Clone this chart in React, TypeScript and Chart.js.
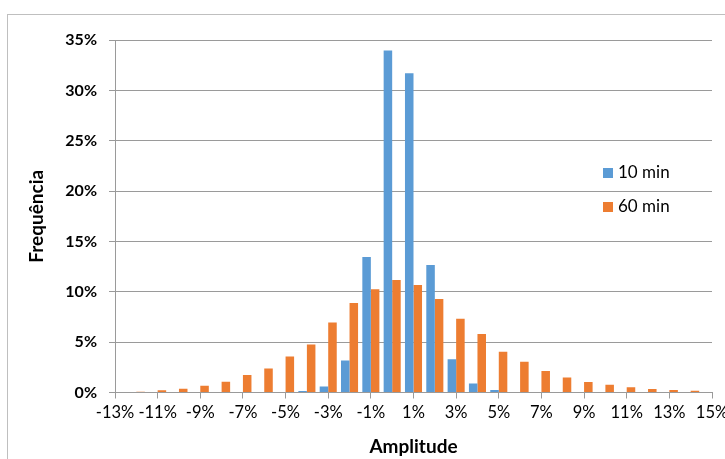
import React, { useEffect, useRef } from 'react';
import { Chart, registerables } from 'chart.js';

Chart.register(...registerables);

const categories = [-13, -12, -11, -10, -9, -8, -7, -6, -5, -4, -3, -2, -1, 0, 1, 2, 3, 4, 5, 6, 7, 8, 9, 10, 11, 12, 13, 14, 15];
const xLabels = categories.map((c) => `${c}%`);

const tenMin = [0, 0, 0, 0, 0, 0, 0, 0, 0, 0.15, 0.6, 3.17, 13.45, 33.95, 31.7, 12.65, 3.3, 0.89, 0.25, 0, 0, 0, 0, 0, 0, 0, 0, 0, 0];
const sixtyMin = [0, 0.08, 0.23, 0.38, 0.67, 1.06, 1.75, 2.38, 3.57, 4.76, 6.94, 8.89, 10.24, 11.17, 10.67, 9.28, 7.33, 5.81, 4.04, 3.06, 2.14, 1.48, 1.05, 0.76, 0.52, 0.35, 0.26, 0.18, 0.13];

const seriesNames = ['10 min', '60 min'];
const seriesColors = ['#5B9BD5', '#ED7D31'];

const yTicks = { min: 0, max: 35, step: 5 };

const FONT = 'Lato, "Open Sans", sans-serif';
const GRID = '#9a9a9a';

const decorPlugin = {
  id: 'decor',
  beforeDraw(chart: any) {
    const ctx = chart.ctx;
    ctx.save();
    ctx.fillStyle = '#ffffff';
    ctx.fillRect(0, 0, chart.width, chart.height);
    ctx.strokeStyle = '#bfbfbf';
    ctx.lineWidth = 1;
    ctx.strokeRect(7.5, 14.5, 900, 700);
    ctx.restore();
  },
  afterDraw(chart: any) {
    const ctx = chart.ctx;
    ctx.save();
    ctx.font = `17px ${FONT}`;
    ctx.textBaseline = 'middle';
    ctx.textAlign = 'left';
    chart.data.datasets.forEach((ds: any, i: number) => {
      const cy = 173 + i * 34;
      ctx.fillStyle = ds.backgroundColor;
      ctx.fillRect(603, cy - 5, 10, 10);
      ctx.fillStyle = '#000';
      ctx.fillText(ds.label, 618, cy);
    });
    ctx.restore();
  },
};

export default function App() {
  const ref = useRef<HTMLCanvasElement>(null);

  useEffect(() => {
    const chart = new Chart(ref.current as HTMLCanvasElement, {
      type: 'bar',
      data: {
        labels: xLabels,
        datasets: [
          { label: seriesNames[0], data: tenMin, backgroundColor: seriesColors[0], barPercentage: 1, categoryPercentage: 0.8 },
          { label: seriesNames[1], data: sixtyMin, backgroundColor: seriesColors[1], barPercentage: 1, categoryPercentage: 0.8 },
        ],
      },
      options: {
        responsive: false,
        devicePixelRatio: 1,
        animation: false,
        layout: { padding: { left: 21.6, top: 40, right: 68, bottom: 17.6 } },
        plugins: { legend: { display: false }, tooltip: { enabled: false } },
        scales: {
          x: {
            type: 'category',
            offset: false,
            grid: { offset: false, drawOnChartArea: false, drawTicks: true, tickLength: 6, color: GRID },
            border: { display: true, color: GRID },
            ticks: {
              autoSkip: false,
              maxRotation: 0,
              minRotation: 0,
              padding: 4,
              color: '#000',
              font: { family: FONT, size: 16.5 },
              callback: (_v: any, index: number) => (Math.abs(categories[index]) % 2 === 1 ? xLabels[index] : null),
            },
            title: { display: true, text: 'Amplitude', color: '#000', font: { family: FONT, size: 19, weight: 'bold' }, padding: { top: 4, bottom: 4 } },
            afterFit: (s: any) => { s.height = 69.9; },
          },
          y: {
            min: yTicks.min,
            max: yTicks.max,
            grid: { color: GRID, tickLength: 6 },
            border: { display: true, color: GRID },
            ticks: {
              stepSize: yTicks.step,
              padding: 12,
              color: '#000',
              font: { family: FONT, size: 16, weight: 'bold' },
              callback: (v: any) => `${v}%`,
            },
            title: { display: true, text: 'Frequência', color: '#000', font: { family: FONT, size: 19, weight: 'bold' }, padding: { top: 4, bottom: 4 } },
            afterFit: (s: any) => { s.width = 93.4; },
          },
        },
      } as any,
      plugins: [decorPlugin],
    });
    return () => chart.destroy();
  }, []);

  return (
    <div style={{ position: 'fixed', left: 0, top: 0, width: 725, height: 459, overflow: 'hidden', background: '#fff' }}>
      <canvas ref={ref} width={780} height={480} style={{ display: 'block', width: 780, height: 480 }} />
    </div>
  );
}
